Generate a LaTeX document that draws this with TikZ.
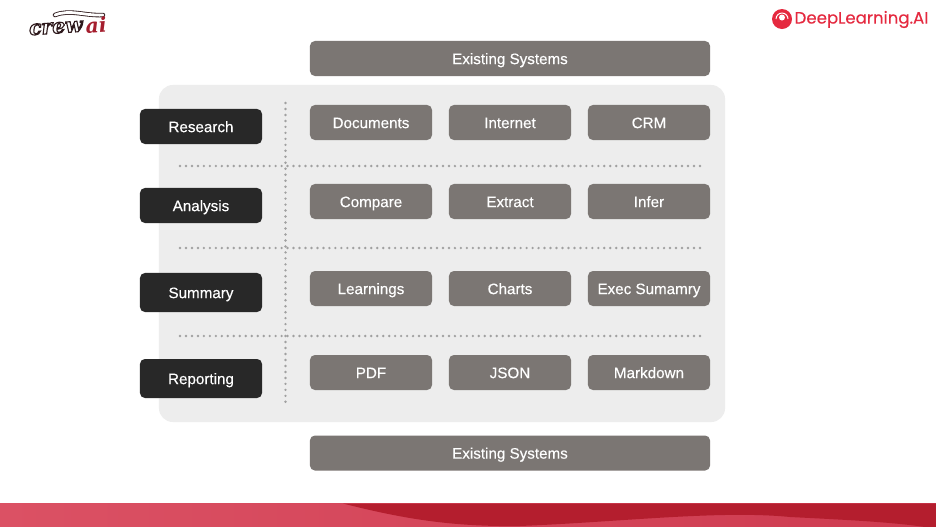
\documentclass[tikz,border=0pt]{standalone}
\usepackage{fontspec}
\setmainfont{Liberation Sans}
\newfontfamily\itemfont[FakeBold=0.25]{Liberation Sans}
\newfontfamily\logofont[FakeBold=0.2]{Poppins}
\newfontfamily\crewfont{DejaVu Serif}
\usetikzlibrary{positioning}
\definecolor{panelgray}{HTML}{EDEDED}
\definecolor{boxgray}{HTML}{7B7673}
\definecolor{labeldark}{HTML}{282828}
\definecolor{dotgray}{HTML}{A0A0A0}
\definecolor{logored}{HTML}{E5293F}
\definecolor{bandlight}{HTML}{DB5164}
\definecolor{bandmid}{HTML}{CE3B50}
\definecolor{banddark}{HTML}{B41E2E}
\definecolor{crewdark}{HTML}{2E1A1C}
\definecolor{crewred}{HTML}{A51E2E}
\newcommand{\outlined}[1]{\special{pdf:code 2 Tr 0.8 w 0.18 0.1 0.11 RG 1 1 1 rg}#1\special{pdf:code 0 Tr 0 G 0 g}}
\tikzset{item/.style={fill=boxgray,rounded corners=3.5pt,text=white,font=\itemfont\fontsize{10.8}{13}\selectfont,text height=8pt,text depth=0pt,minimum width=3.05cm,minimum height=0.875cm,inner sep=0pt}}
\tikzset{wide/.style={item,minimum width=10cm}}
\tikzset{stage/.style={item,fill=labeldark}}
\tikzset{dots/.style={dotgray,line width=1.9pt,line cap=round,dash pattern=on 0pt off 4.25pt}}

\begin{document}
\begin{tikzpicture}[x=0.025cm,y=-0.025cm]
\useasboundingbox (0,0) rectangle (936,527);
\fill[white] (0,0) rectangle (936,527);

% panel
\node[fill=panelgray,rounded corners=10pt,minimum width=14.15cm,minimum height=8.425cm,inner sep=0pt] (panel) at (442,253.5) {};

% dotted rules
\coordinate (h1a) at (180,166);
\coordinate (h1b) at (702,166);
\coordinate (h2a) at (180,248);
\coordinate (h2b) at (702,248);
\coordinate (h3a) at (180,336);
\coordinate (h3b) at (702,336);
\coordinate (va) at (285.5,103);
\coordinate (vb) at (285.5,404);
\draw[dots] (h1a) -- (h1b);
\draw[dots] (h2a) -- (h2b);
\draw[dots] (h3a) -- (h3b);
\draw[dots] (va) -- (vb);

% outer boxes
\node[wide] (top) at (510,58.5) {Existing Systems};
\node[wide] (bottom) at (510,453) {Existing Systems};

\begin{scope}[on grid]
\node[item] (documents) at (371,122.5) {Documents};
\node[item] (internet) [right = 139 of documents] {Internet};
\node[item] (crm) [right = 139 of internet] {CRM};

\node[item] (compare) at (371,201.5) {Compare};
\node[item] (extract) [right = 139 of compare] {Extract};
\node[item] (infer) [right = 139 of extract] {Infer};

\node[item] (learnings) at (371,288.5) {Learnings};
\node[item] (charts) [right = 139 of learnings] {Charts};
\node[item] (summary) [right = 139 of charts] {Exec Sumamry};

\node[item] (pdf) at (371,372.5) {PDF};
\node[item] (json) [right = 139 of pdf] {JSON};
\node[item] (markdown) [right = 139 of json] {Markdown};
\end{scope}

\node[stage] (research) at (201,126.5) {Research};
\node[stage] (analysis) at (201,205.5) {Analysis};
\node[stage,minimum height=0.975cm] (summarize) at (201,292.5) {Summary};
\node[stage,minimum height=0.975cm] (reporting) at (201,378.5) {Reporting};

% footer band
\fill[left color=bandlight,right color=bandmid] (0,503.5) rectangle (936,527);
\fill[banddark] (343,503.5) .. controls (400,518) and (450,527) .. (520,526) .. controls (620,522) and (720,510) .. (790,517) .. controls (850,520) and (890,522) .. (925,527) -- (936,527) -- (936,503.5) -- cycle;

% logos
\node[font=\logofont\fontsize{11.8}{14}\selectfont,text=logored,inner sep=0pt] (deeplearning) at (861.5,19.5) {DeepLearning.AI};
\node[circle,fill=logored,minimum size=0.5cm,inner sep=0pt] (mark) at (782,19) {};
\draw[white,line width=0.7pt] (mark.center) ++(-6,0) arc[start angle=180,end angle=360,radius=6];
\fill[white] (mark.center) ++(0,-1.5) circle[radius=3];
\draw[crewdark,line width=0.6pt,double=white,double distance=2pt,line cap=round] (55,15) .. controls (70,9) and (85,16) .. (103,15);
\node[font=\crewfont\bfseries\itshape\fontsize{14.5}{16}\selectfont,inner sep=0pt,rotate=4] (crew) at (56,28) {\outlined{crew}};
\node[font=\crewfont\bfseries\itshape\fontsize{14.5}{16}\selectfont,text=crewred,inner sep=0pt,rotate=4] (ai) at (96,25.5) {ai};
\end{tikzpicture}
\end{document}
